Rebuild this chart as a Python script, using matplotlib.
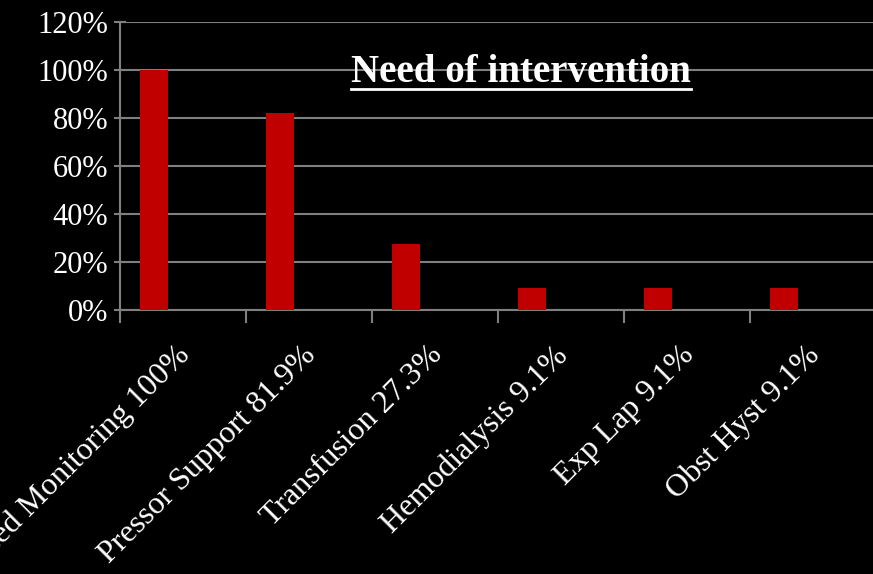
import matplotlib
matplotlib.use("Agg")
import matplotlib.pyplot as plt
import numpy as np
from matplotlib.lines import Line2D

categories = ["Advanced Monitoring 100%", "Pressor Support 81.9%", "Transfusion 27.3%",
              "Hemodialysis 9.1%", "Exp Lap 9.1%", "Obst Hyst 9.1%"]
values = [100, 81.9, 27.3, 9.1, 9.1, 9.1]
y_ticks = [0, 20, 40, 60, 80, 100, 120]

plt.rcParams['font.family'] = ['Liberation Serif', 'DejaVu Serif']

fig = plt.figure(figsize=(8.73, 5.74), dpi=100, facecolor='black')
ax = fig.add_axes([120 / 873, 1 - 310 / 574, 756 / 873, 288 / 574])
ax.set_facecolor('black')

x = np.arange(len(categories))
ax.bar(x - 0.23, values, width=0.22, color='#C00000', zorder=3)

ax.set_ylim(0, 120)
ax.set_xlim(-0.5, len(categories) - 0.5)
ax.set_yticks(y_ticks)
ax.set_yticklabels([f"{v}%" for v in y_ticks], color='white', fontsize=22)
ax.yaxis.grid(True, color='#7f7f7f', linewidth=1.5, zorder=0)

# category boundaries carry the tick marks, labels sit at centres
ax.set_xticks(np.arange(len(categories) + 1) - 0.5)
ax.set_xticklabels([])
ax.set_xticks(x - 0.06, minor=True)
ax.set_xticklabels(categories, minor=True, rotation=45, ha='right',
                   rotation_mode='anchor', color='white', fontsize=23)
ax.tick_params(axis='x', which='minor', length=0, pad=22)
ax.tick_params(axis='x', which='major', length=9, width=1.5, color='#7f7f7f')
ax.tick_params(axis='y', direction='inout', length=9, width=1.5, color='#7f7f7f', pad=4)

for side in ['top', 'right']:
    ax.spines[side].set_visible(False)
for side in ['left', 'bottom']:
    ax.spines[side].set_color('#7f7f7f')
    ax.spines[side].set_linewidth(1.5)

title = fig.text(521 / 873, 1 - 73 / 574, "Need of intervention", color='white',
                 fontsize=28, fontweight='bold', ha='center', va='center')

# underline under the title
fig.canvas.draw()
bb = title.get_window_extent().transformed(fig.transFigure.inverted())
fig.add_artist(Line2D([bb.x0, bb.x1], [bb.y0 + 0.004, bb.y0 + 0.004],
                      transform=fig.transFigure, color='white', linewidth=2))

fig.savefig("out.png", dpi=100, facecolor='black')
